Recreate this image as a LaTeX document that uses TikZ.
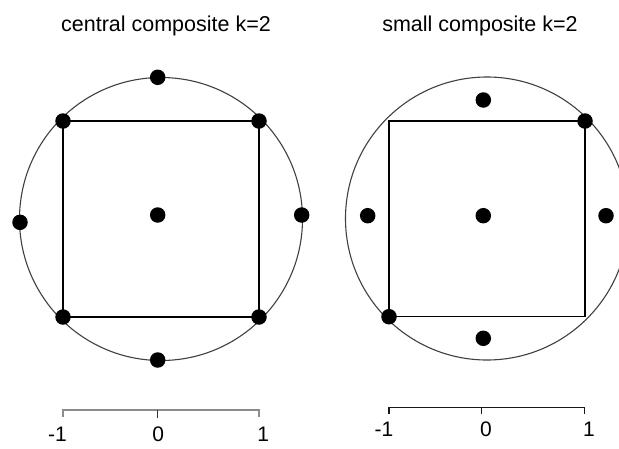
\documentclass[tikz,border=0pt]{standalone}
\usepackage{fontspec}
\setmainfont{Liberation Sans}
\usepackage{tikz}
\usetikzlibrary{positioning, calc}

\begin{document}
\begin{tikzpicture}[x=1pt, y=-1pt,
    pt/.style={circle, fill=black, inner sep=0pt, minimum size=15.5pt},
    ring/.style={draw=black!75, line width=1.1pt},
    box/.style={draw=black, line width=1.5pt},
    ttl/.style={anchor=base, inner sep=0pt, font=\fontsize{21.5}{24}\selectfont},
    lbl/.style={anchor=base, inner sep=0pt, font=\fontsize{21}{24}\selectfont}]

    \useasboundingbox (0,0) rectangle (619,448);
    \clip (0,0) rectangle (619,448);

    % --- Titles ---
    \node[ttl] (T1) at (166,31.7) {central composite k=2};
    \node[ttl] (T2) at (480,31.7) {small composite k=2};

    % --- Left panel: circle and square ---
    \coordinate (LC) at (161,219);
    \coordinate (LNW) at (63,121);
    \coordinate (LSE) at (259,317);
    \draw[ring] (LC) circle (141.5);
    \draw[box] (LNW) rectangle (LSE);

    % --- Left panel design points ---
    \node[pt] (L1) at (63,121) {};
    \node[pt] (L2) at (259,121) {};
    \node[pt] (L3) at (63,317) {};
    \node[pt] (L4) at (259,317) {};
    \node[pt] (L5) at (157.7,77.3) {};
    \node[pt] (L6) at (157.7,360) {};
    \node[pt] (L7) at (20,222.3) {};
    \node[pt] (L8) at (301.7,215) {};
    \node[pt] (L0) at (157.7,215) {};

    % --- Right panel: circle and square ---
    \coordinate (RC) at (487,218.5);
    \coordinate (RNW) at (389,121);
    \coordinate (RSE) at (585,316.7);
    \draw[ring] (RC) circle (141.5);
    \draw[box] (RNW) rectangle (RSE);

    % --- Right panel design points ---
    \node[pt] (R1) at (585,121) {};
    \node[pt] (R2) at (389,316.7) {};
    \node[pt] (R3) at (483.3,100) {};
    \node[pt] (R4) at (483.3,338.3) {};
    \node[pt] (R5) at (367.7,215.7) {};
    \node[pt] (R6) at (606,215.7) {};
    \node[pt] (R0) at (483.3,215.7) {};

    % --- Left axis ---
    \coordinate (LA) at (62.7,410);
    \coordinate (LB) at (259,410);
    \coordinate (LM) at (157.3,410);
    \draw[black!45, line width=1.8pt] ($(LA)+(0,7)$) -- (LA) -- (LB) -- ($(LB)+(0,7)$);
    \draw[black!80, line width=1.3pt] (LM) -- ($(LM)+(0,8)$);
    \node[lbl] (LL1) at (57.5,441.7) {-1};
    \node[lbl] (LL2) at (158.3,441.7) {0};
    \node[lbl] (LL3) at (263.3,441.7) {1};

    % --- Right axis ---
    \coordinate (RA) at (389,407.7);
    \coordinate (RB) at (584.3,407.7);
    \coordinate (RM) at (481.7,407.7);
    \draw[black!90, line width=1.4pt] ($(RA)+(0,6)$) -- (RA) -- (RB) -- ($(RB)+(0,6)$);
    \draw[black!90, line width=1.4pt] (RM) -- ($(RM)+(0,6)$);
    \node[lbl] (RL1) at (384,436.7) {-1};
    \node[lbl] (RL2) at (486,436.7) {0};
    \node[lbl] (RL3) at (589,436.7) {1};

\end{tikzpicture}
\end{document}
